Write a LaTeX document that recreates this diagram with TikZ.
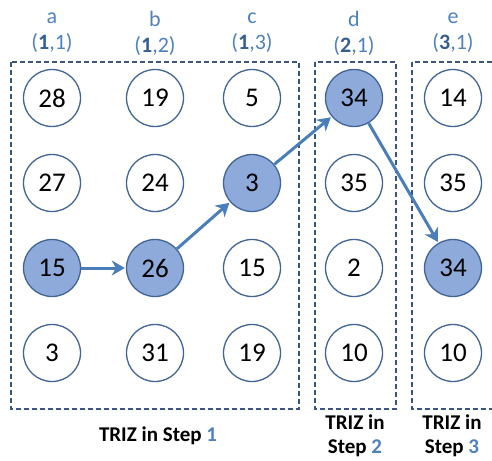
\documentclass[tikz,border=0pt]{standalone}
\usepackage{fontspec}
\setmainfont{Carlito}
\usetikzlibrary{arrows.meta}
\definecolor{hdr}{RGB}{79,129,189}
\definecolor{hdrbold}{RGB}{54,95,145}
\definecolor{ring}{RGB}{65,100,150}
\definecolor{hot}{RGB}{142,170,219}
\definecolor{frame}{RGB}{60,85,125}
\definecolor{link}{RGB}{74,126,187}
\tikzset{
  cell/.style={circle, draw=ring, line width=1.3pt, fill=white, minimum size=57pt,
    inner sep=0pt, font=\fontsize{27}{27}\selectfont},
  hotcell/.style={cell, fill=hot},
  group/.style={draw=frame, dashed, dash pattern=on 5pt off 3pt, line width=1.4pt},
  colhead/.style={text=hdr, font=\fontsize{22}{26}\selectfont, align=center},
  steplabel/.style={font=\bfseries\fontsize{21}{24}\selectfont, align=center},
  hop/.style={draw=link, line width=3pt, -{Stealth[length=13pt, width=15pt, inset=4pt]}, shorten >=1pt}
}
\begin{document}
\begin{tikzpicture}[x=1pt, y=-1pt]
  \useasboundingbox (0,0) rectangle (492,460);

  % dashed group frames
  \draw[group] (11,62) rectangle (299,409);
  \draw[group] (315,62) rectangle (396,409);
  \draw[group] (412,62) rectangle (505,409);

  % column headings
  \node[colhead] (ha) at (52,33) {a\\(\textbf{\color{hdrbold}1},1)};
  \node[colhead] (hb) at (155,33) {b\\(\textbf{\color{hdrbold}1},2)};
  \node[colhead] (hc) at (252,33) {c\\(\textbf{\color{hdrbold}1},3)};
  \node[colhead] (hd) at (354,33) {d\\(\textbf{\color{hdrbold}2},1)};
  \node[colhead] (he) at (453,33) {e\\(\textbf{\color{hdrbold}3},1)};

  % column a
  \node[cell]    (a1) at (52,98)  {28};
  \node[cell]    (a2) at (52,183) {27};
  \node[hotcell] (a3) at (52,268) {15};
  \node[cell]    (a4) at (52,353) {3};
  % column b
  \node[cell]    (b1) at (155,98)  {19};
  \node[cell]    (b2) at (155,183) {24};
  \node[hotcell] (b3) at (155,268) {26};
  \node[cell]    (b4) at (155,353) {31};
  % column c
  \node[cell]    (c1) at (252,98)  {5};
  \node[hotcell] (c2) at (252,183) {3};
  \node[cell]    (c3) at (252,268) {15};
  \node[cell]    (c4) at (252,353) {19};
  % column d
  \node[hotcell] (d1) at (354,98)  {34};
  \node[cell]    (d2) at (354,183) {35};
  \node[cell]    (d3) at (354,268) {2};
  \node[cell]    (d4) at (354,353) {10};
  % column e
  \node[cell]    (e1) at (453,98)  {14};
  \node[cell]    (e2) at (453,183) {35};
  \node[hotcell] (e3) at (453,268) {34};
  \node[cell]    (e4) at (453,353) {10};

  % path through the chosen cells
  \draw[hop] (a3) -- (b3);
  \draw[hop] (b3) -- (c2);
  \draw[hop] (c2) -- (d1);
  \draw[hop] (d1) -- (e3);

  % step captions
  \node[steplabel] (s1) at (158,436) {TRIZ in Step \textcolor{hdr}{1}};
  \node[steplabel] (s2) at (355,436) {TRIZ in\\Step \textcolor{hdr}{2}};
  \node[steplabel] (s3) at (452,436) {TRIZ in\\Step \textcolor{hdr}{3}};
\end{tikzpicture}
\end{document}
